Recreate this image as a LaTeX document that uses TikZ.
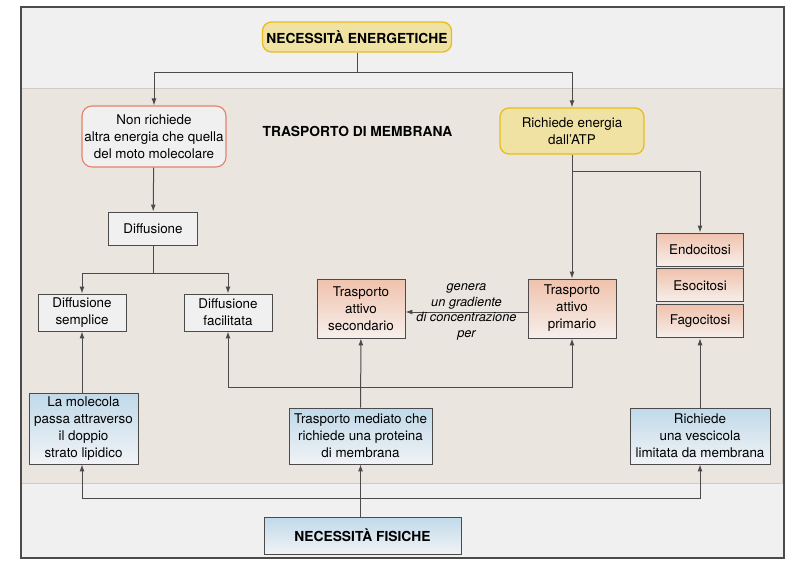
\documentclass[tikz,border=0pt]{standalone}
\usepackage{fontspec}
\setmainfont{TeX Gyre Heros}
\usetikzlibrary{
  arrows.meta,
  positioning,
  calc
}
\definecolor{framegray}{RGB}{75,75,75}
\definecolor{outerbg}{RGB}{240,240,240}
\definecolor{panelbg}{RGB}{234,230,223}
\definecolor{panelline}{RGB}{208,203,196}
\definecolor{energyyellow}{RGB}{240,226,162}
\definecolor{energyborder}{RGB}{232,188,30}
\definecolor{passivered}{RGB}{230,128,104}
\definecolor{activetop}{RGB}{240,194,172}
\definecolor{activebottom}{RGB}{246,239,236}
\definecolor{physictop}{RGB}{192,217,233}
\definecolor{physicbottom}{RGB}{241,243,246}
\tikzset{
  conceptbox/.style={
    draw=framegray,
    line width=0.9pt,
    align=center,
    inner sep=2pt,
    font=\fontsize{13.4}{17}\selectfont
  },
  energybox/.style={conceptbox,rounded corners=9pt,draw=energyborder,line width=1.3pt,fill=energyyellow},
  passivebox/.style={conceptbox,rounded corners=10pt,draw=passivered,line width=1.1pt,fill=outerbg},
  plainbox/.style={conceptbox,fill=outerbg},
  activebox/.style={conceptbox,top color=activetop,bottom color=activebottom},
  physicbox/.style={conceptbox,top color=physictop,bottom color=physicbottom},
  flowarrow/.style={-{Latex[length=7pt,width=5pt]},line width=1pt,draw=framegray},
  flowline/.style={line width=1pt,draw=framegray}
}
\begin{document}
\begin{tikzpicture}[x=1pt,y=-1pt]
  \useasboundingbox (0,0) rectangle (786,569);
  % background and membrane panel
  \fill[outerbg] (21,7) rectangle (784,558);
  \draw[panelline,fill=panelbg,line width=1pt] (21,89) rectangle (782,483);
  \draw[framegray,line width=1.2pt] (21,7) rectangle (784,558);

  \node[energybox,minimum width=189,minimum height=30,font=\fontsize{13.8}{17}\selectfont\bfseries] (energy) at (357,37) {NECESSITÀ ENERGETICHE};
  \node[font=\fontsize{13.8}{17}\selectfont\bfseries] (title) at (357.5,131) {TRASPORTO DI MEMBRANA};

  \node[passivebox,minimum width=144,minimum height=61] (passive) at (154,136.5) {Non richiede\\altra energia che quella\\del moto molecolare};
  \node[energybox,minimum width=144,minimum height=46] (atp) at (572,131) {Richiede energia\\dall'ATP};

  \node[plainbox,minimum width=89,minimum height=33] (diffusion) at (153,228.5) {Diffusione};
  \node[plainbox,minimum width=88,minimum height=37] (simple) at (82,312.5) {Diffusione\\semplice};
  \node[plainbox,minimum width=88,minimum height=37] (facilitated) at (228,312.5) {Diffusione\\facilitata};

  \node[activebox,minimum width=88,minimum height=59] (secondary) at (361,308.5) {Trasporto\\attivo\\secondario};
  \node[activebox,minimum width=88,minimum height=59] (primary) at (572,308.5) {Trasporto\\attivo\\primario};

  \node[activebox,minimum width=87,minimum height=33] (endo) at (700,249.5) {Endocitosi};
  \node[activebox,minimum width=87,minimum height=33,below=2pt of endo] (exo) {Esocitosi};
  \node[activebox,minimum width=87,minimum height=33,below=2pt of exo] (phago) {Fagocitosi};

  \node[physicbox,minimum width=109,minimum height=71] (lipid) at (83.5,428.5) {La molecola\\passa attraverso\\il doppio\\strato lipidico};
  \node[physicbox,minimum width=143,minimum height=56] (protein) at (360.5,436) {Trasporto mediato che\\richiede una proteina\\di membrana};
  \node[physicbox,minimum width=140,minimum height=56] (vesicle) at (700,436) {Richiede\\una vescicola\\limitata da membrana};
  \node[physicbox,minimum width=197,minimum height=37,font=\fontsize{13.8}{17}\selectfont\bfseries] (physical) at (362.5,535.5) {NECESSITÀ FISICHE};

  % energy branch
  \coordinate (energyfork) at (357,73);
  \draw[flowline] (energy) -- (energyfork);
  \draw[flowarrow] (energyfork) -| (passive);
  \draw[flowarrow] (energyfork) -| (atp);
  \draw[flowarrow] (passive) -- (diffusion);
  \coordinate (difffork) at (153,273);
  \draw[flowline] (diffusion) -- (difffork);
  \draw[flowarrow] (difffork) -| (simple);
  \draw[flowarrow] (difffork) -| (facilitated);
  \draw[flowarrow] (atp) -- (primary);
  \coordinate (atpfork) at (572,172);
  \draw[flowarrow] (atpfork) -| (endo);
  \draw[flowarrow] ($(primary.west)+(0,3.5)$) -- node[font=\fontsize{12.8}{15.5}\selectfont\itshape,align=center] {genera\\un gradiente\\di concentrazione\\per} ($(secondary.east)+(0,3.5)$);

  % physical branch
  \draw[flowarrow] (lipid.north -| simple.south) -- (simple.south);
  \draw[flowarrow] (protein) -- (secondary);
  \coordinate (protfork) at (360.5,387);
  \draw[flowarrow] (protfork) -| (facilitated);
  \draw[flowarrow] (protfork) -| (primary);
  \draw[flowarrow] (vesicle) -- (phago);
  \draw[flowarrow] (physical.north -| protein.south) -- (protein.south);
  \coordinate (physfork) at (360.5,498);
  \draw[flowarrow] (physfork) -| (lipid.south -| simple.south);
  \draw[flowarrow] (physfork) -| (vesicle);
\end{tikzpicture}
\end{document}
